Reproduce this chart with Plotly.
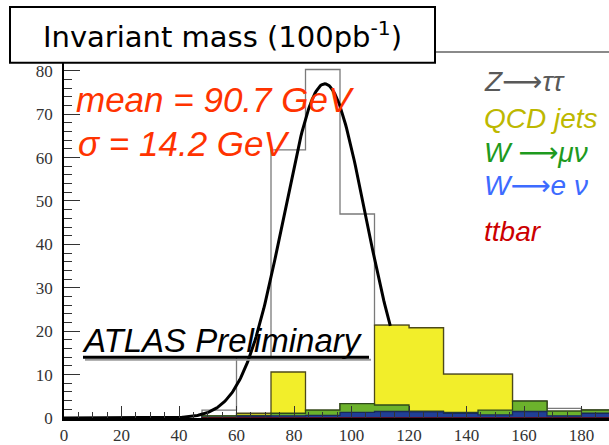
import numpy as np
import plotly.graph_objects as go

# ---------------- data ----------------
bin_edges = [48, 60, 72, 84, 96, 108, 120, 132, 144, 156, 168, 180, 192]
ttbar = [0, 0, 0, 0, 0, 0, 0, 0, 0, 0, 0, 0]
w_enu = [0.2, 0.4, 0.5, 0.6, 1.3, 1.5, 1.4, 1.1, 0.7, 1.5, 0.5, 1.1]
w_munu = [0.3, 0.2, 0.6, 1.2, 2.0, 1.5, 0.2, 0.2, 1.1, 2.4, 1.1, 0.7]
qcd_jets = [0, 0.5, 9.5, 0, 0, 18.4, 19.2, 8.8, 8.3, 0, 0, 0]
z_tautau = [1.3, 12.9, 51.2, 78.5, 43.7, 0, 0, 0, 0, 0, 0.6, 0.1]

fit_mean = 90.7
fit_sigma = 14.2
fit_amp = 77.0
fit_xmin, fit_xmax = 0, 113.5

ARROW = '<span style="font-family:DejaVu Sans">⟶</span>'
legend_labels = ["Z" + ARROW + "ττ", "QCD jets", "W " + ARROW + "μν", "W" + ARROW + "e ν", "ttbar"]
legend_colors = ["#595959", "#bdb800", "#1e9a1e", "#3d6bff", "#cc0000"]

x_ticks = [0, 20, 40, 60, 80, 100, 120, 140, 160, 180]
y_ticks = [0, 10, 20, 30, 40, 50, 60, 70, 80]

# ---------------- layout geometry ----------------
W, H = 609, 445
ML, MR, MT, MB = 64, 0, 52, 19
PW, PH = W - ML - MR, H - MT - MB
XMAX = PW / 2.875
YMAX = PH / 4.435


def px(x):
    return (x - ML) / PW


def py(y):
    return (H - MB - y) / PH


# stacked cumulative tops (bottom -> top)
stack = np.cumsum(np.array([ttbar, w_enu, w_munu, qcd_jets, z_tautau], dtype=float), axis=0)


def step_xy(values):
    xs = [bin_edges[0]] + list(bin_edges) + [bin_edges[-1]]
    ys = [0] + list(values) + [values[-1], 0]
    return xs, ys


fig = go.Figure()

layers = [
    (stack[4], "white", "#7a7a7a"),   # Z->tautau (total outline)
    (stack[3], "#f2ee2a", "#4d4a1a"),  # QCD jets
    (stack[2], "#6cb22c", "#2e4a1a"),  # W->munu
    (stack[1], "#203f96", "#1a2a5a"),  # W->enu
    (stack[0], "#cc0000", "#660000"),  # ttbar
]
for vals, fillc, linec in layers:
    xs, ys = step_xy(vals)
    fig.add_trace(go.Scatter(x=xs, y=ys, mode="lines", line=dict(shape="hv", color=linec, width=1.3),
                             fill="tozeroy", fillcolor=fillc, hoverinfo="skip", showlegend=False))

xf = np.linspace(fit_xmin, fit_xmax, 300)
yf = fit_amp * np.exp(-0.5 * ((xf - fit_mean) / fit_sigma) ** 2)
fig.add_trace(go.Scatter(x=xf, y=yf, mode="lines", line=dict(color="black", width=3),
                         hoverinfo="skip", showlegend=False))

tickfont = dict(family="Liberation Serif", size=17, color="#333333")
fig.update_layout(
    width=W, height=H,
    margin=dict(l=ML, r=MR, t=MT, b=MB),
    paper_bgcolor="white", plot_bgcolor="white",
    xaxis=dict(range=[0, XMAX], tickvals=x_ticks, ticks="inside", ticklen=12, tickwidth=1.3,
               tickcolor="#333", showline=True, linecolor="black", linewidth=2.5,
               showgrid=False, zeroline=False, tickfont=tickfont,
               minor=dict(dtick=5, ticks="inside", ticklen=6, tickwidth=1.2, tickcolor="#333", showgrid=False)),
    yaxis=dict(range=[0, YMAX], tickvals=y_ticks, ticks="inside", ticklen=16, tickwidth=1.3,
               tickcolor="#333", showline=True, linecolor="black", linewidth=1.5,
               showgrid=False, zeroline=False, tickfont=tickfont, ticklabelstandoff=6,
               minor=dict(dtick=2, ticks="inside", ticklen=8, tickwidth=1.2, tickcolor="#333", showgrid=False)),
)

shapes = [
    dict(type="line", xref="paper", yref="paper", x0=0, x1=1, y0=1, y1=1,
         line=dict(color="#8a8a8a", width=2), layer="above"),
    dict(type="rect", xref="paper", yref="paper", x0=px(10), x1=px(435), y0=py(63), y1=py(6),
         line=dict(color="black", width=2), fillcolor="white", layer="above"),
    dict(type="line", xref="paper", yref="paper", x0=px(85), x1=px(371), y0=py(366.5), y1=py(366.5),
         line=dict(color="#9a9a9a", width=2), layer="above"),
    dict(type="line", xref="paper", yref="paper", x0=px(83), x1=px(369), y0=py(364), y1=py(364),
         line=dict(color="black", width=3), layer="above"),
]
fig.update_layout(shapes=shapes)

ann = []
ann.append(dict(text="Invariant mass (100pb<sup>-1</sup>)", x=px(222), y=py(35), xref="paper", yref="paper",
                xanchor="center", yanchor="middle", showarrow=False,
                font=dict(family="DejaVu Sans", size=29, color="black")))
red = "#ff3300"
ann.append(dict(text="mean = 90.7 GeV", x=px(74), y=py(101), xref="paper", yref="paper",
                xanchor="left", yanchor="middle", showarrow=False,
                font=dict(family="Liberation Sans", size=35, color=red, style="italic")))
ann.append(dict(text="σ = 14.2 GeV", x=px(76), y=py(145), xref="paper", yref="paper",
                xanchor="left", yanchor="middle", showarrow=False,
                font=dict(family="Liberation Sans", size=35, color=red, style="italic")))
ann.append(dict(text="ATLAS Preliminary", x=px(80), y=py(347), xref="paper", yref="paper",
                xanchor="left", yanchor="middle", showarrow=False,
                font=dict(family="Liberation Sans", size=33, color="black", style="italic")))
leg_y = [82, 120, 155, 188, 235]
for lab, col, yy in zip(legend_labels, legend_colors, leg_y):
    ann.append(dict(text=lab, x=px(482), y=py(yy), xref="paper", yref="paper",
                    xanchor="left", yanchor="middle", showarrow=False,
                    font=dict(family="Liberation Sans", size=28, color=col, style="italic")))
fig.update_layout(annotations=ann)

fig.write_html("out.html")
